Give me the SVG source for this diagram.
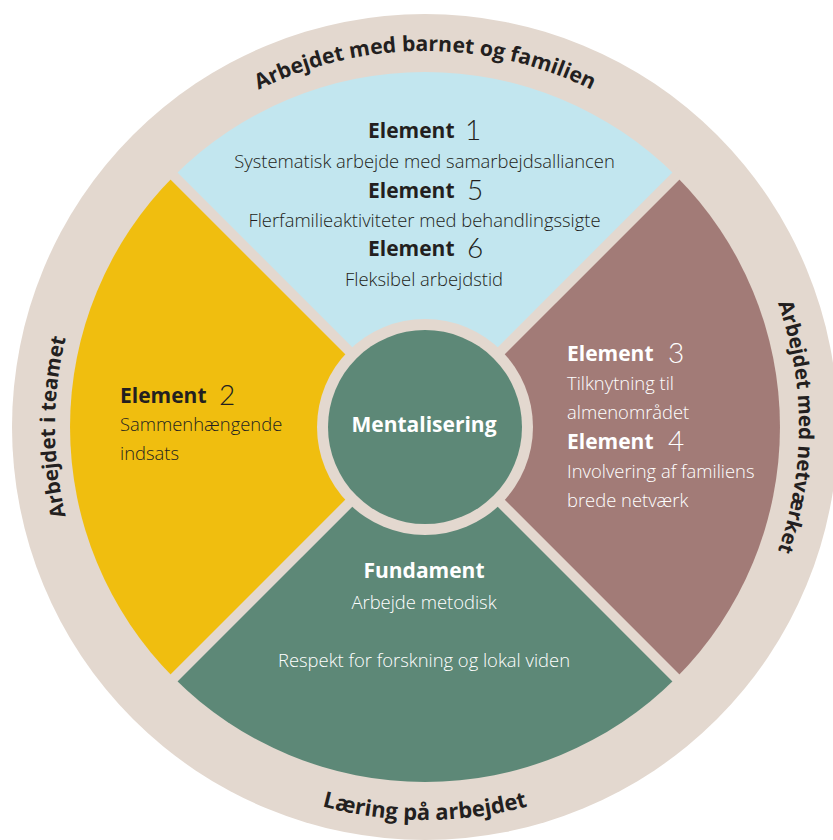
<svg xmlns="http://www.w3.org/2000/svg" width="833" height="840" viewBox="0 0 833 840">
<style>
.ring{font-family:"Open Sans","Noto Sans",sans-serif;font-weight:700;font-size:20.5px;fill:#231f20}
.hd{font-family:"Open Sans","Noto Sans",sans-serif;font-weight:700;font-size:21px}
.num{font-family:"Lato","Open Sans",sans-serif;font-weight:300;font-size:28px}
.bd{font-family:"Open Sans","Noto Sans",sans-serif;font-weight:300;font-size:18.4px}
.dk{fill:#231f20}
.wt{fill:#ffffff}
.c{text-anchor:middle}
.sep{stroke:#e3d8cf;stroke-width:10;fill:none}
</style>
<defs>
<path id="pTop" d="M49,427 A376,376 0 0 1 801,427"/>
<path id="pRight" d="M425,53 A374,374 0 0 1 425,801"/>
<path id="pLeft" d="M425,797 A370,370 0 0 1 425,57"/>
<path id="pBottom" d="M32,427 A393,393 0 0 0 818,427"/>
</defs>
<g id="outer-ring">
<circle cx="425" cy="427" r="413" fill="#e3d8cf"/>
<text class="ring" style="font-size:21.2px"><textPath href="#pTop" startOffset="50%" text-anchor="middle">Arbejdet med barnet og familien</textPath></text>
<text class="ring"><textPath href="#pRight" startOffset="50%" text-anchor="middle">Arbejdet med netværket</textPath></text>
<text class="ring"><textPath href="#pLeft" startOffset="50%" text-anchor="middle">Arbejdet i teamet</textPath></text>
<text class="ring" style="font-size:22px"><textPath href="#pBottom" startOffset="50%" text-anchor="middle">Læring på arbejdet</textPath></text>
</g>
<g id="sector-top">
<path d="M425,427 L174,176 A355,355 0 0 1 676,176 Z" fill="#c2e6ef"/>
<text class="hd dk" x="368" y="138">Element</text><text class="num dk" x="465" y="140">1</text>
<text class="bd dk c" x="424.5" y="168">Systematisk arbejde med samarbejdsalliancen</text>
<text class="hd dk" x="368" y="198">Element</text><text class="num dk" x="467" y="200">5</text>
<text class="bd dk c" x="424.5" y="227">Flerfamilieaktiviteter med behandlingssigte</text>
<text class="hd dk" x="368" y="256">Element</text><text class="num dk" x="467" y="258">6</text>
<text class="bd dk c" x="424" y="286">Fleksibel arbejdstid</text>
</g>
<g id="sector-right">
<path d="M425,427 L676,176 A355,355 0 0 1 676,678 Z" fill="#a27b77"/>
<text class="hd wt" x="567" y="361">Element</text><text class="num wt" x="668" y="363">3</text>
<text class="bd wt" x="567" y="390">Tilknytning til</text>
<text class="bd wt" x="567" y="419">almenområdet</text>
<text class="hd wt" x="567" y="449">Element</text><text class="num wt" x="668" y="451">4</text>
<text class="bd wt" x="567" y="478">Involvering af familiens</text>
<text class="bd wt" x="567" y="507">brede netværk</text>
</g>
<g id="sector-bottom">
<path d="M425,427 L676,678 A355,355 0 0 1 174,678 Z" fill="#5d8877"/>
<text class="hd wt c" x="424" y="578">Fundament</text>
<text class="bd wt c" x="424" y="609">Arbejde metodisk</text>
<text class="bd wt c" x="424" y="667">Respekt for forskning og lokal viden</text>
</g>
<g id="sector-left">
<path d="M425,427 L174,678 A355,355 0 0 1 174,176 Z" fill="#f0be0f"/>
<text class="hd dk" x="120" y="403">Element</text><text class="num dk" x="219" y="405">2</text>
<text class="bd dk" x="120" y="431">Sammenhængende</text>
<text class="bd dk" x="120" y="460">indsats</text>
</g>
<g id="connectors">
<line class="sep" x1="168" y1="170" x2="682" y2="684"/>
<line class="sep" x1="682" y1="170" x2="168" y2="684"/>
</g>
<g id="center">
<circle cx="425" cy="427" r="108" fill="#e3d8cf"/>
<circle cx="425" cy="427" r="97" fill="#5d8877"/>
<text class="hd wt c" x="424" y="432">Mentalisering</text>
</g>
</svg>
